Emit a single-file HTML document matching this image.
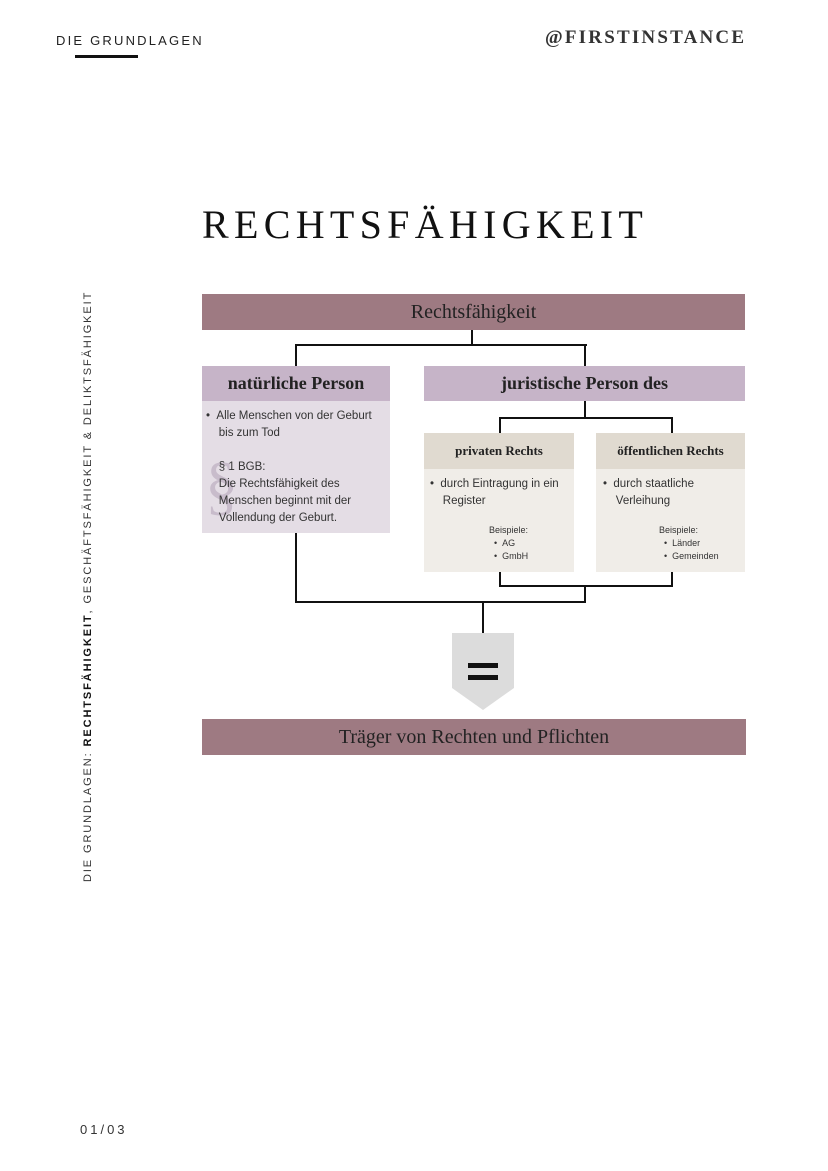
<!DOCTYPE html>
<html><head><meta charset="utf-8"><style>
body{margin:0;width:828px;height:1171px;background:#fff;position:relative;overflow:hidden;font-family:"Liberation Sans",sans-serif}
.a{position:absolute}
.serif{font-family:"Liberation Serif",serif}
.line{position:absolute;background:#111}
.hdr{display:flex;align-items:center;justify-content:center;font-family:"Liberation Serif",serif;color:#222}
.sm{font-size:12px;color:#333;line-height:17px}
</style></head><body>
<div class="a" style="left:56px;top:33px;font-size:13px;letter-spacing:2.2px;color:#222">DIE GRUNDLAGEN</div>
<div class="a" style="left:75px;top:55px;width:63px;height:3px;background:#111"></div>
<div class="a serif" style="left:545px;top:27px;font-size:19px;letter-spacing:2.2px;font-weight:bold;color:#333">@FIRSTINSTANCE</div>
<div class="a" style="left:82px;top:882px;transform-origin:0 0;transform:rotate(-90deg);font-size:11px;letter-spacing:1.9px;color:#333;white-space:nowrap">DIE GRUNDLAGEN: <b style="color:#111">RECHTSFÄHIGKEIT</b>, GESCHÄFTSFÄHIGKEIT &amp; DELIKTSFÄHIGKEIT</div>
<div class="a serif" style="left:202px;top:201px;font-size:40px;letter-spacing:5.3px;color:#111">RECHTSFÄHIGKEIT</div>

<div class="a hdr" style="left:202px;top:294px;width:543px;height:36px;background:#9e7a82;font-size:20px">Rechtsfähigkeit</div>
<div class="line" style="left:471px;top:330px;width:2px;height:15px"></div>
<div class="line" style="left:295px;top:344px;width:292px;height:2px"></div>
<div class="line" style="left:295px;top:344px;width:2px;height:22px"></div>
<div class="line" style="left:584px;top:344px;width:2px;height:22px"></div>

<div class="a hdr" style="left:202px;top:366px;width:188px;height:35px;background:#c6b4c8;font-size:18px;font-weight:bold">natürliche Person</div>
<div class="a" style="left:202px;top:401px;width:188px;height:132px;background:#e4dde5"></div>
<div class="a serif" style="left:205px;top:448px;font-size:66px;color:#c8bccb">§</div>
<div class="a sm" style="left:206px;top:408px;width:184px;font-size:11.5px">•&nbsp;&nbsp;Alle Menschen von der Geburt<br>&nbsp;&nbsp;&nbsp;&nbsp;bis zum Tod<br><br><span style="position:relative">&nbsp;&nbsp;&nbsp;&nbsp;§ 1 BGB:<br>&nbsp;&nbsp;&nbsp;&nbsp;Die Rechtsfähigkeit des<br>&nbsp;&nbsp;&nbsp;&nbsp;Menschen beginnt mit der<br>&nbsp;&nbsp;&nbsp;&nbsp;Vollendung der Geburt.</span></div>

<div class="a hdr" style="left:424px;top:366px;width:321px;height:35px;background:#c6b4c8;font-size:18px;font-weight:bold">juristische Person des</div>
<div class="line" style="left:584px;top:401px;width:2px;height:18px"></div>
<div class="line" style="left:499px;top:417px;width:174px;height:2px"></div>
<div class="line" style="left:499px;top:417px;width:2px;height:16px"></div>
<div class="line" style="left:671px;top:417px;width:2px;height:16px"></div>

<div class="a hdr" style="left:424px;top:433px;width:150px;height:36px;background:#e0dad0;font-size:13px;font-weight:bold">privaten Rechts</div>
<div class="a" style="left:424px;top:469px;width:150px;height:103px;background:#f0ede8"></div>
<div class="a sm" style="left:430px;top:476px;font-size:11.5px">•&nbsp;&nbsp;durch Eintragung in ein<br>&nbsp;&nbsp;&nbsp;&nbsp;Register</div>
<div class="a" style="left:489px;top:524px;font-size:9px;line-height:13px;color:#333">Beispiele:<br>&nbsp;&nbsp;•&nbsp;&nbsp;AG<br>&nbsp;&nbsp;•&nbsp;&nbsp;GmbH</div>

<div class="a hdr" style="left:596px;top:433px;width:149px;height:36px;background:#e0dad0;font-size:13px;font-weight:bold">öffentlichen Rechts</div>
<div class="a" style="left:596px;top:469px;width:149px;height:103px;background:#f0ede8"></div>
<div class="a sm" style="left:603px;top:476px;font-size:11.5px">•&nbsp;&nbsp;durch staatliche<br>&nbsp;&nbsp;&nbsp;&nbsp;Verleihung</div>
<div class="a" style="left:659px;top:524px;font-size:9px;line-height:13px;color:#333">Beispiele:<br>&nbsp;&nbsp;•&nbsp;&nbsp;Länder<br>&nbsp;&nbsp;•&nbsp;&nbsp;Gemeinden</div>

<div class="line" style="left:499px;top:572px;width:2px;height:15px"></div>
<div class="line" style="left:671px;top:572px;width:2px;height:15px"></div>
<div class="line" style="left:499px;top:585px;width:174px;height:2px"></div>
<div class="line" style="left:584px;top:585px;width:2px;height:18px"></div>
<div class="line" style="left:295px;top:533px;width:2px;height:70px"></div>
<div class="line" style="left:295px;top:601px;width:291px;height:2px"></div>
<div class="line" style="left:482px;top:601px;width:2px;height:33px"></div>

<svg class="a" style="left:452px;top:633px" width="62" height="78"><polygon points="0,0 62,0 62,55 31,77 0,55" fill="#dcdcdc"/><rect x="16" y="30" width="30" height="5" fill="#111"/><rect x="16" y="42" width="30" height="5" fill="#111"/></svg>

<div class="a hdr" style="left:202px;top:719px;width:544px;height:36px;background:#9e7a82;font-size:20px">Träger von Rechten und Pflichten</div>

<div class="a" style="left:80px;top:1122px;font-size:13px;letter-spacing:3px;color:#333">01/03</div>
</body></html>
